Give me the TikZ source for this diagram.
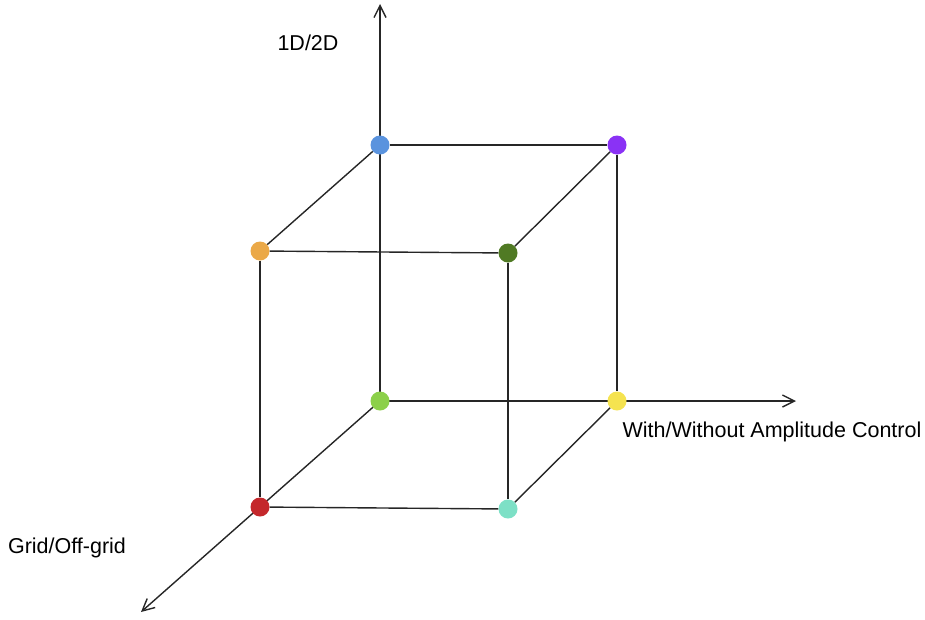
\documentclass[tikz,border=0pt]{standalone}
\usepackage{fontspec}
\setmainfont{Liberation Sans}
\usetikzlibrary{arrows.meta,backgrounds}
\definecolor{cblue}{HTML}{5A93DE}
\definecolor{cpurple}{HTML}{8A32F5}
\definecolor{corange}{HTML}{EBA948}
\definecolor{cdgreen}{HTML}{507A24}
\definecolor{clgreen}{HTML}{8CD04A}
\definecolor{cyellow}{HTML}{F5E350}
\definecolor{cred}{HTML}{C4282C}
\definecolor{cteal}{HTML}{7DE0C6}
\tikzset{
  dot/.style={circle, inner sep=0pt, minimum size=19pt, fill=#1},
  edge/.style={draw=black!85, line width=1.4pt},
  axis/.style={draw=black!85, line width=1.4pt, -{Straight Barb[length=12pt,width=12pt,line width=1.4pt]}},
  lbl/.style={font=\fontsize{21.5}{25}\selectfont, inner sep=0pt}
}
\begin{document}
\begin{tikzpicture}[x=1pt,y=-1pt]
\useasboundingbox (0,0) rectangle (925,619);
\node[dot=cblue] (b) at (380,145) {};
\node[dot=cpurple] (p) at (617,145) {};
\node[dot=corange] (o) at (260,251) {};
\node[dot=cdgreen] (dg) at (508,253) {};
\node[dot=clgreen] (lg) at (380,401) {};
\node[dot=cyellow] (y) at (617,401) {};
\node[dot=cred] (r) at (260,507) {};
\node[dot=cteal] (t) at (508,509) {};
\coordinate (top) at (380,4);
\coordinate (right) at (796,401);
\coordinate (diag) at (141,612);
\node[lbl] (l1) at (308,43) {1D/2D};
\node[lbl] (l2) at (772,432) {With/Without Amplitude Control};
\node[lbl] (l3) at (67,548) {Grid/Off-grid};
\begin{scope}[on background layer]
\draw[axis] (lg.center) -- (top);
\draw[axis] (lg.center) -- (right);
\draw[axis] (lg.center) -- (diag);
\draw[edge] (b) -- (p);
\draw[edge] (b) -- (o);
\draw[edge] (p) -- (dg);
\draw[edge] (o) -- (dg);
\draw[edge] (o) -- (r);
\draw[edge] (dg) -- (t);
\draw[edge] (p) -- (y);
\draw[edge] (r) -- (t);
\draw[edge] (t) -- (y);
\end{scope}
\end{tikzpicture}
\end{document}
